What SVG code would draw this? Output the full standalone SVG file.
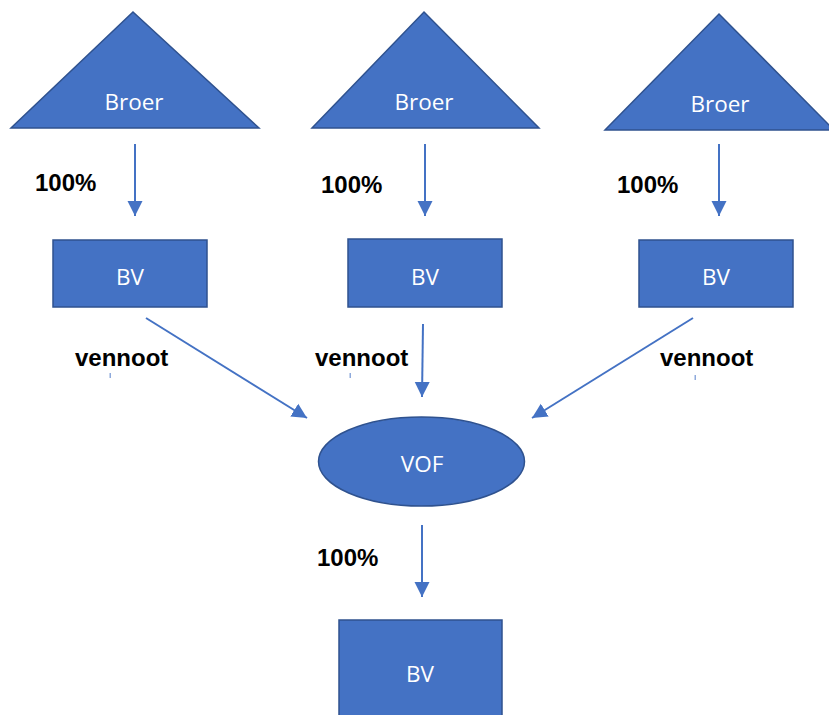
<svg xmlns="http://www.w3.org/2000/svg" width="829" height="715" viewBox="0 0 829 715">
<defs>
<marker id="ah" markerUnits="userSpaceOnUse" markerWidth="16" markerHeight="16" viewBox="0 0 16 16" refX="15" refY="8" orient="auto">
<path d="M0,0.5 L15,8 L0,15.5 Z" fill="#4472C4"/>
</marker>
<style>
.shape{fill:#4472C4;stroke:#2F528F;stroke-width:1.5}
.lbl{fill:#FFFFFF;font-family:"Open Sans","Noto Sans",sans-serif;font-size:22.5px;text-anchor:middle}
.pct{fill:#000000;font-family:"Liberation Sans",Arial,sans-serif;font-weight:bold;font-size:24px}
.conn{stroke:#4472C4;stroke-width:2;fill:none;marker-end:url(#ah)}
.tick{fill:#4472C4;opacity:0.6}
</style>
</defs>
<rect width="829" height="715" fill="#FFFFFF"/>

<g id="broer1"><polygon class="shape" points="133,12 259,128 11,128"/><text class="lbl" x="134" y="110">Broer</text></g>
<g id="broer2"><polygon class="shape" points="424,12 539,128 312,128"/><text class="lbl" x="424" y="110">Broer</text></g>
<g id="broer3"><polygon class="shape" points="719,14 834,130 605,130"/><text class="lbl" x="720" y="112">Broer</text></g>

<g id="bv1"><rect class="shape" x="53" y="240" width="154" height="67"/><text class="lbl" x="130" y="285">BV</text></g>
<g id="bv2"><rect class="shape" x="348" y="239" width="154" height="68"/><text class="lbl" x="425" y="285">BV</text></g>
<g id="bv3"><rect class="shape" x="639" y="240" width="154" height="67"/><text class="lbl" x="716" y="285">BV</text></g>

<g id="vof"><ellipse class="shape" cx="421.5" cy="461.5" rx="103" ry="44.5"/><text class="lbl" x="422" y="472">VOF</text></g>

<g id="bv4"><rect class="shape" x="339" y="620" width="163" height="100"/><text class="lbl" x="420" y="682">BV</text></g>

<g id="connectors">
<line class="conn" x1="135" y1="144" x2="135" y2="216"/>
<line class="conn" x1="425" y1="144" x2="425" y2="216"/>
<line class="conn" x1="719" y1="144" x2="719" y2="216"/>
<line class="conn" x1="146" y1="318" x2="307" y2="418"/>
<line class="conn" x1="423" y1="324" x2="422" y2="397"/>
<line class="conn" x1="693" y1="318" x2="532" y2="418"/>
<line class="conn" x1="422" y1="525" x2="422" y2="597"/>
</g>

<g id="labels">
<text class="pct" x="35" y="191">100%</text>
<text class="pct" x="321" y="193">100%</text>
<text class="pct" x="617" y="193">100%</text>
<text class="pct" x="317" y="566">100%</text>
<text class="pct" x="75" y="366">vennoot</text>
<text class="pct" x="315" y="366">vennoot</text>
<text class="pct" x="660" y="366">vennoot</text>
<rect class="tick" x="109.5" y="373" width="1.5" height="5"/>
<rect class="tick" x="349.5" y="373" width="1.5" height="5"/>
<rect class="tick" x="694.5" y="375" width="1.5" height="5"/>
</g>
</svg>
